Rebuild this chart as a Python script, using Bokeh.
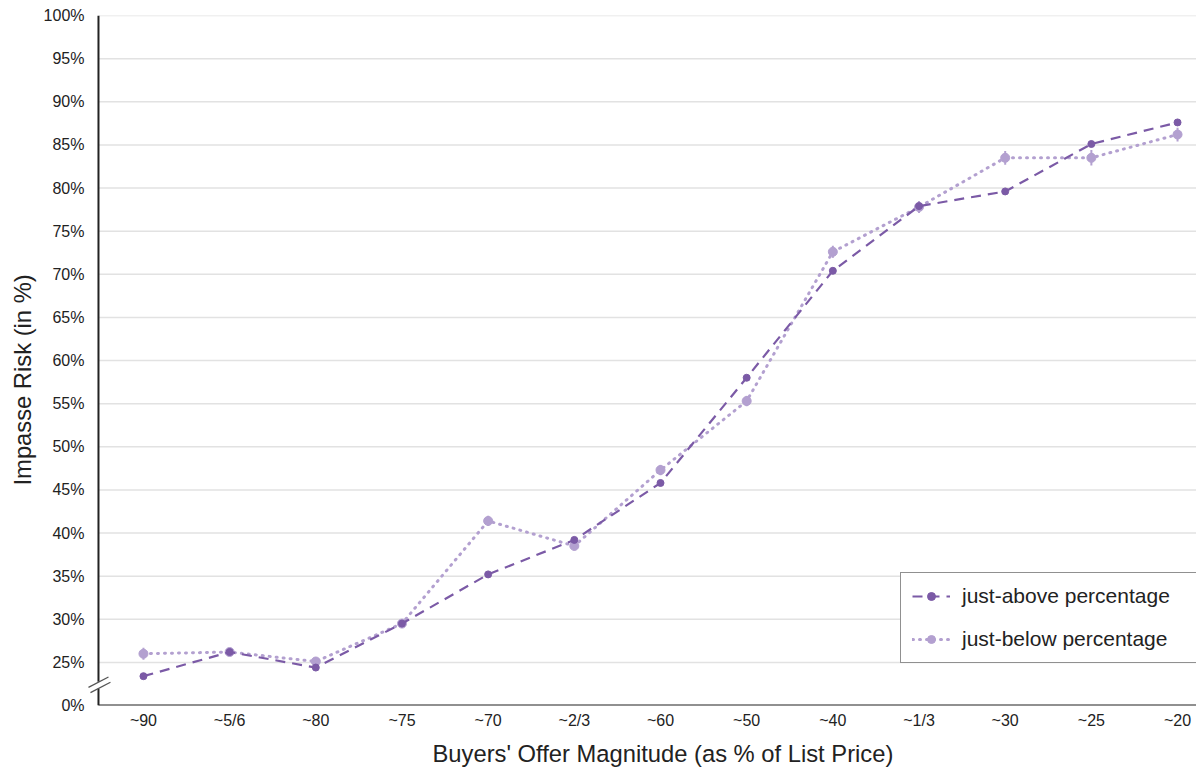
from bokeh.plotting import figure
from bokeh.models import FixedTicker, Range1d, Legend, LegendItem, Whisker, ColumnDataSource, Title
from bokeh.embed import file_html
from bokeh.resources import INLINE

categories = ["~90", "~5/6", "~80", "~75", "~70", "~2/3", "~60", "~50", "~40", "~1/3", "~30", "~25", "~20"]
above = [23.4, 26.2, 24.4, 29.5, 35.2, 39.2, 45.8, 58.0, 70.4, 77.9, 79.6, 85.1, 87.6]
below = [26.0, 26.2, 25.1, 29.5, 41.4, 38.5, 47.3, 55.3, 72.6, 77.8, 83.5, 83.5, 86.2]
below_err = [0.7, 0.5, 0.5, 0.5, 0.6, 0.5, 0.6, 0.6, 0.7, 0.7, 0.8, 0.9, 0.8]
ytick_values = [20, 25, 30, 35, 40, 45, 50, 55, 60, 65, 70, 75, 80, 85, 90, 95, 100]
ytick_labels = ["0%"] + [f"{v}%" for v in ytick_values[1:]]
x_title = "Buyers' Offer Magnitude (as % of List Price)"
y_title = "Impasse Risk (in %)"

DARK = "#7b5aa6"
LIGHT = "#b3a0d0"
FONT = "Liberation Sans"
INK = "#222222"

xs = list(range(len(categories)))
X0, X1 = -0.661, 12.22      # frame range
AX = -0.522                 # where the drawn y-axis sits
Y0, Y1 = 20, 100

p = figure(width=1196, height=772, output_backend="svg", toolbar_location=None,
           x_range=Range1d(X0, X1), y_range=Range1d(Y0, Y1),
           min_border_left=86, min_border_right=0, min_border_top=15, min_border_bottom=67)
p.outline_line_color = None
p.background_fill_color = "white"
p.border_fill_color = "white"

p.xaxis.ticker = FixedTicker(ticks=xs)
p.xaxis.major_label_overrides = {i: c for i, c in enumerate(categories)}
p.yaxis.ticker = FixedTicker(ticks=ytick_values)
p.yaxis.major_label_overrides = {v: l for v, l in zip(ytick_values, ytick_labels)}

for ax in (p.xaxis[0], p.yaxis[0]):
    ax.axis_line_color = None
    ax.major_tick_line_color = None
    ax.minor_tick_line_color = None
    ax.major_tick_in = 0
    ax.major_tick_out = 0
    ax.minor_tick_in = 0
    ax.minor_tick_out = 0
    ax.major_label_text_font = FONT
    ax.major_label_text_font_size = "16px"
    ax.major_label_text_color = INK

p.xaxis.major_label_standoff = 6
p.yaxis.major_label_standoff = 2

# axis titles, offset like the original
p.add_layout(Title(text=x_title, align="left", offset=346, standoff=12, text_font=FONT,
                   text_font_size="23.75px", text_font_style="normal", text_color=INK), "below")
p.add_layout(Title(text=y_title, align="left", offset=220, standoff=9, text_font=FONT,
                   text_font_size="23.75px", text_font_style="normal", text_color=INK), "left")

p.xgrid.grid_line_color = None
p.ygrid.grid_line_color = None

gy = ytick_values[1:]
p.segment(x0=[AX] * len(gy), x1=[X1] * len(gy), y0=gy, y1=gy,
          line_color="#e2e2e2", line_width=1.5, level="underlay")

p.segment(x0=[AX, AX, AX], x1=[AX, AX, X1], y0=[Y0, 22.75, Y0], y1=[21.95, Y1, Y0],
          line_color=INK, line_width=2)
p.segment(x0=[AX - 0.116, AX - 0.093], x1=[AX + 0.116, AX + 0.139],
          y0=[22.1, 21.5], y1=[23.3, 22.7], line_color="#555555", line_width=1.3)

src_b = ColumnDataSource(dict(x=xs, y=below, lo=[v - e for v, e in zip(below, below_err)],
                              hi=[v + e for v, e in zip(below, below_err)]))
src_a = ColumnDataSource(dict(x=xs, y=above))

lb = p.line("x", "y", source=src_b, color=LIGHT, line_width=3, line_dash="1 6", line_cap="round")
wb = Whisker(base="x", lower="lo", upper="hi", source=src_b, line_color=LIGHT, line_width=2)
wb.upper_head = None
wb.lower_head = None
p.add_layout(wb)
sb = p.scatter("x", "y", source=src_b, color=LIGHT, size=9)

la = p.line("x", "y", source=src_a, color=DARK, line_width=2.2, line_dash="10 7")
sa = p.scatter("x", "y", source=src_a, color=DARK, size=7)

legend = Legend(items=[LegendItem(label="just-above percentage", renderers=[la, sa]),
                       LegendItem(label="just-below percentage", renderers=[lb, sb])],
                location=(814, 42))
legend.label_text_font = FONT
legend.label_text_font_size = "21px"
legend.label_text_color = INK
legend.border_line_color = INK
legend.border_line_width = 1.5
legend.background_fill_alpha = 1
legend.glyph_width = 38
legend.glyph_height = 20
legend.label_height = 20
legend.spacing = 19
legend.padding = 11
legend.margin = 0
legend.label_standoff = 12
legend.label_width = 223
p.add_layout(legend)

open("out.html", "w").write(file_html(p, INLINE))
